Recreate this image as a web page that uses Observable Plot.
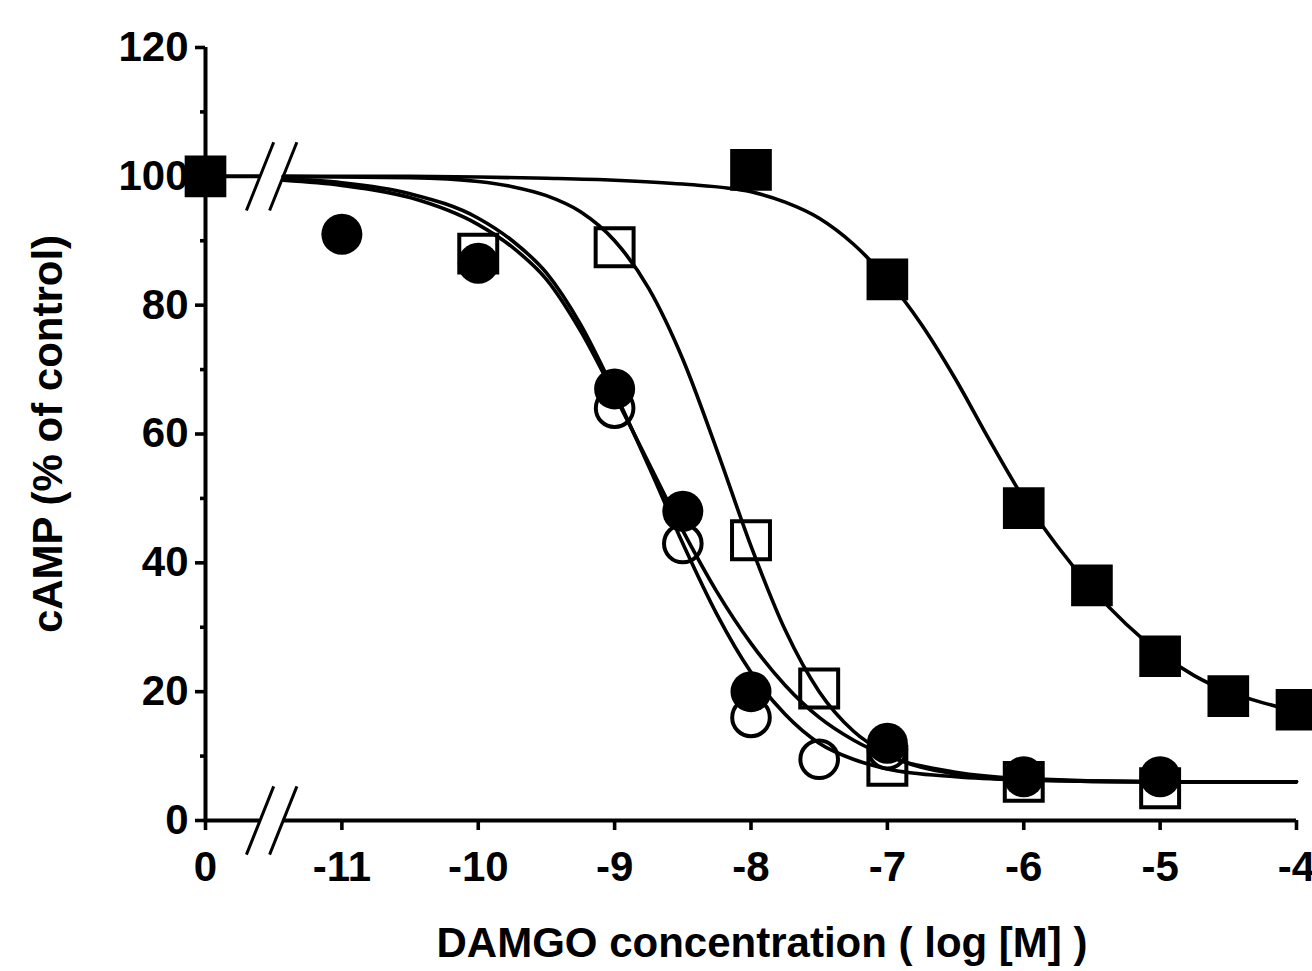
<!DOCTYPE html>
<html><head><meta charset="utf-8">
<script src="https://cdn.jsdelivr.net/npm/d3@7"></script>
<script src="https://cdn.jsdelivr.net/npm/@observablehq/plot@0.6"></script>
<style>body{margin:0;background:#fff} svg{display:block}</style>
</head><body><div id="chart"></div>
<script>
// axis position used for the control ("0") concentration, left of the axis break
const CONTROL_POS = -12;
const breakX = [-11.6, -11.43];
const breakLevels = [0, 100];

const xTickPos = [-12, -11, -10, -9, -8, -7, -6, -5, -4];
const xTickLabels = ["0", "-11", "-10", "-9", "-8", "-7", "-6", "-5", "-4"];
const yMajorTicks = [0, 20, 40, 60, 80, 100, 120];
const yMinorTicks = [10, 30, 50, 70, 90, 110];

// markers (log [M]; "control" = 0 concentration)
const filledCircleX = [-11, -10, -9, -8.5, -8, -7, -6, -5];
const filledCircleY = [91, 86.5, 67, 48, 20, 12, 6.8, 6.8];
const openCircleX = [-9, -8.5, -8, -7.5, -7];
const openCircleY = [64, 43, 16, 9.5, 11];
const openSquareX = [-10, -9, -8, -7.5, -7, -6, -5];
const openSquareY = [88, 89, 43.5, 20.5, 8.5, 6, 5];
const filledSquareX = ["control", -8, -7, -6, -5.5, -5, -4.5, -4];
const filledSquareY = [100, 101, 84, 48.5, 36.5, 25.5, 19.3, 17.2];

// fitted curves
const curveX = [-11.43, -11, -10.5, -10, -9.75, -9.5, -9.25, -9, -8.75, -8.5, -8.25, -8, -7.75, -7.5, -7.25, -7, -6.5, -6, -5, -4];
const fitFilledCircle = [99.6, 99, 97.3, 93.5, 90, 85, 77, 66.5, 55, 43, 32, 23, 16.5, 12, 9.5, 8, 6.8, 6.3, 6, 6];
const fitOpenCircle = [99.4, 98.6, 96.7, 92.5, 89, 84, 76, 66, 55.5, 45, 35.5, 27.5, 21, 16, 12.5, 10, 7.5, 6.5, 6, 6];
const fitOpenSquare = [100, 99.9, 99.8, 99.2, 98.4, 97, 94.5, 90, 82.6, 71.6, 57.5, 42.6, 29.6, 20, 13.9, 10.3, 7.2, 6.3, 6, 6];
const fitFilledSquareX = [-11.43, -10.5, -10, -9.5, -9, -8.5, -8, -7.75, -7.5, -7.25, -7, -6.75, -6.5, -6.25, -6, -5.75, -5.5, -5.25, -5, -4.75, -4.5, -4.25, -4];
const fitFilledSquareY = [100, 100, 99.9, 99.7, 99.4, 98.8, 97.6, 96, 93.5, 89.5, 84, 77, 68.5, 59, 50, 42.5, 36, 30.5, 26, 22.5, 20, 18.3, 17];

const pos = v => v === "control" ? CONTROL_POS : v;
const zip = (xs, ys) => xs.map((x, i) => ({x: pos(x), y: ys[i]}));

const curves = [
  ...zip(curveX, fitFilledCircle).map(d => ({...d, s: "fc"})),
  ...zip(curveX, fitOpenCircle).map(d => ({...d, s: "oc"})),
  ...zip(curveX, fitOpenSquare).map(d => ({...d, s: "os"})),
  ...zip(fitFilledSquareX, fitFilledSquareY).map(d => ({...d, s: "fs"}))
];
const slashes = breakLevels.flatMap(y => breakX.map(x => ({x, y})));

const font = "'Liberation Sans', Arial, Helvetica, sans-serif";
const SW = 3.6;
const FS = 42;

const chart = Plot.plot({
  width: 1312,
  height: 971,
  marginLeft: 205,
  marginRight: 16,
  marginTop: 47,
  marginBottom: 151,
  x: {domain: [-12, -4]},
  y: {domain: [0, 120]},
  style: {fontFamily: font, fontSize: FS + "px", fontWeight: "bold", color: "black", background: "white"},
  marks: [
    Plot.axisY(yMajorTicks, {tickSize: 10, tickPadding: 7, strokeWidth: SW, label: null, fontSize: FS, fontWeight: "bold"}),
    Plot.axisY(yMinorTicks, {tickSize: 5, strokeWidth: SW, tickFormat: () => "", label: null}),
    Plot.axisX(xTickPos, {tickSize: 10, tickPadding: 21, strokeWidth: SW, label: null, fontSize: FS, fontWeight: "bold",
      tickFormat: d => xTickLabels[xTickPos.indexOf(d)]}),
    Plot.ruleX([CONTROL_POS], {y1: 0, y2: 120, strokeWidth: 4}),
    Plot.ruleY([0], {x1: CONTROL_POS, x2: breakX[0], strokeWidth: 4}),
    Plot.ruleY([0], {x1: breakX[1], x2: -4, strokeWidth: 4}),
    Plot.ruleY([100], {x1: CONTROL_POS, x2: breakX[0], strokeWidth: 4}),
    Plot.link(slashes, {x1: d => d.x - 0.1, x2: d => d.x + 0.1, y1: d => d.y - 5.3, y2: d => d.y + 5.3, strokeWidth: 3}),
    Plot.dot(zip(openSquareX, openSquareY), {x: "x", y: "y", symbol: "square", r: 21.4, fill: "white", stroke: "black", strokeWidth: 4}),
    Plot.dot(zip(openCircleX, openCircleY), {x: "x", y: "y", symbol: "circle", r: 18.8, fill: "white", stroke: "black", strokeWidth: 4}),
    Plot.dot(zip(filledCircleX, filledCircleY), {x: "x", y: "y", symbol: "circle", r: 20.5, fill: "black"}),
    Plot.dot(zip(filledSquareX, filledSquareY), {x: "x", y: "y", symbol: "square", r: 23.5, fill: "black"}),
    Plot.line(curves, {x: "x", y: "y", z: "s", curve: "monotone-x", stroke: "black", strokeWidth: SW}),
    Plot.text(["DAMGO concentration ( log [M] )"], {text: d => d, frameAnchor: "bottom", dy: 136, dx: 11, fontSize: FS, fontWeight: "bold"}),
    Plot.text(["cAMP (% of control)"], {text: d => d, frameAnchor: "left", textAnchor: "middle", dx: -157, rotate: -90, fontSize: FS, fontWeight: "bold"})
  ]
});
document.getElementById("chart").appendChild(chart);
</script>
</body></html>
